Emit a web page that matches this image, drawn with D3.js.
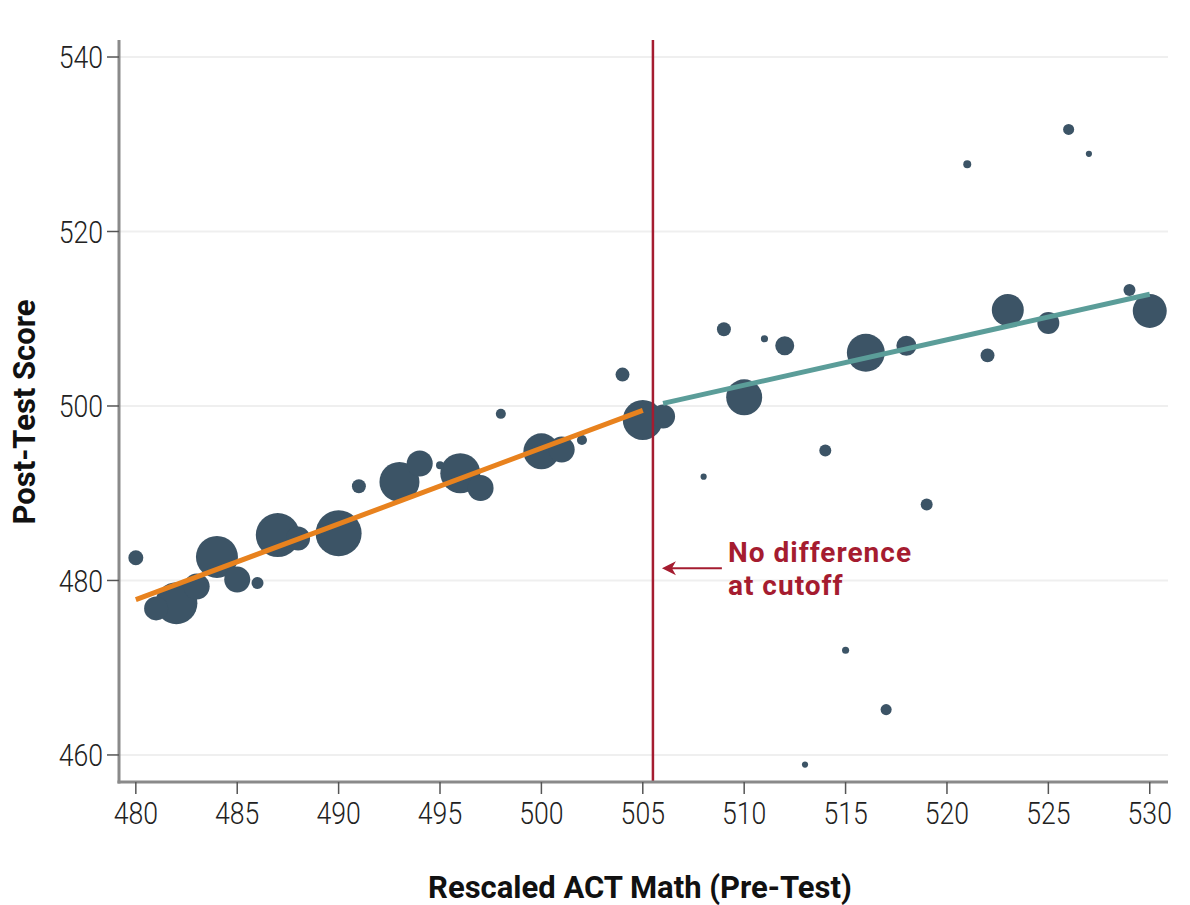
<!DOCTYPE html>
<html lang="en">
<head>
<meta charset="UTF-8">
<title>Regression discontinuity</title>
<script src="https://d3js.org/d3.v7.min.js"></script>
<style>
    body { margin: 0; background: #fff; }
    svg { display: block; }
    .tick-label { font-family: 'Roboto', sans-serif; font-weight: 300; font-size: 31px; fill: #222; }
    .axis-title { font-family: 'Roboto', sans-serif; font-weight: 700; font-size: 31px; fill: #111; }
    .note { font-family: 'Roboto', sans-serif; font-weight: 700; font-size: 28px; letter-spacing: 1px; fill: #a51c30; }
</style>
</head>
<body>
<svg id="chart" width="1190" height="905"></svg>
<script>
// binned pre-test score, mean post-test score, students in bin
const actScores = [480, 481, 482, 483, 484, 485, 486, 487, 488, 490, 491, 493, 494, 495, 496, 497, 498,
    500, 501, 502, 504, 505, 506, 508, 509, 510, 511, 512, 513, 514, 515, 516, 517, 518, 519,
    521, 522, 523, 525, 526, 527, 529, 530];
const postScores = [482.6, 476.8, 477.4, 479.3, 482.7, 480.1, 479.7, 485.2, 484.8, 485.4, 490.8, 491.3, 493.4, 493.2, 492.3, 490.6, 499.1,
    494.8, 495.0, 496.1, 503.6, 498.4, 498.8, 491.9, 508.8, 501.0, 507.7, 506.9, 458.9, 494.9, 472.0, 506.1, 465.2, 506.9, 488.7,
    527.7, 505.8, 511.0, 509.5, 531.7, 528.9, 513.3, 510.9];
const binCounts = [53, 136, 417, 160, 417, 160, 34, 457, 136, 500, 46, 378, 160, 15, 378, 160, 24,
    306, 160, 24, 46, 378, 136, 9, 46, 306, 12, 85, 9, 34, 12, 341, 29, 95, 34,
    15, 46, 242, 114, 29, 9, 34, 273];

const cutoff = 505.5;
const leftFitX = [480, 505];
const leftFitY = [477.8, 499.5];
const rightFitX = [506, 530];
const rightFitY = [500.3, 512.8];

const xTicks = [480, 485, 490, 495, 500, 505, 510, 515, 520, 525, 530];
const yTicks = [460, 480, 500, 520, 540];

const svg = d3.select("#chart");

const x = d3.scaleLinear().domain([479.17, 530.9]).range([119, 1168]);
const y = d3.scaleLinear().domain([456.9, 541.95]).range([782, 40]);
const r = d3.scaleSqrt().domain([0, 500]).range([0, 23]);

// gridlines
svg.append("g").selectAll("line")
    .data(yTicks)
    .join("line")
    .attr("x1", x.range()[0]).attr("x2", x.range()[1])
    .attr("y1", d => y(d)).attr("y2", d => y(d))
    .attr("stroke", "#efefef").attr("stroke-width", 2);

// bubbles
const pts = actScores.map((a, i) => ({ a, p: postScores[i], n: binCounts[i] }));
svg.append("g").selectAll("circle")
    .data(pts.slice().sort((u, v) => v.n - u.n))
    .join("circle")
    .attr("cx", d => x(d.a))
    .attr("cy", d => y(d.p))
    .attr("r", d => r(d.n))
    .attr("fill", "#3c5466");

// fitted lines
const fit = d3.line().x(d => x(d[0])).y(d => y(d[1]));
svg.append("path")
    .attr("d", fit(leftFitX.map((v, i) => [v, leftFitY[i]])))
    .attr("stroke", "#e8821e").attr("stroke-width", 5).attr("fill", "none");
svg.append("path")
    .attr("d", fit(rightFitX.map((v, i) => [v, rightFitY[i]])))
    .attr("stroke", "#5b9d99").attr("stroke-width", 5).attr("fill", "none");

// cutoff line
svg.append("line")
    .attr("x1", x(cutoff)).attr("x2", x(cutoff))
    .attr("y1", y.range()[1]).attr("y2", y.range()[0])
    .attr("stroke", "#a51c30").attr("stroke-width", 2.5);

// axes
const axisColor = "#8a8a8a";
svg.append("line")
    .attr("x1", x.range()[0]).attr("x2", x.range()[0])
    .attr("y1", y.range()[1]).attr("y2", y.range()[0] + 1.5)
    .attr("stroke", axisColor).attr("stroke-width", 3);
svg.append("line")
    .attr("x1", x.range()[0] - 1.5).attr("x2", x.range()[1])
    .attr("y1", y.range()[0]).attr("y2", y.range()[0])
    .attr("stroke", axisColor).attr("stroke-width", 3);

// labels are squeezed a little to mimic the condensed face of the original
const yAxis = svg.append("g");
yAxis.selectAll("line")
    .data(yTicks).join("line")
    .attr("x1", 107).attr("x2", 119)
    .attr("y1", d => y(d)).attr("y2", d => y(d))
    .attr("stroke", "#555").attr("stroke-width", 1.5);
yAxis.selectAll("text")
    .data(yTicks).join("text")
    .attr("class", "tick-label")
    .attr("transform", d => `translate(103,${y(d)}) scale(0.86,1)`)
    .attr("dy", "0.36em")
    .attr("text-anchor", "end")
    .text(d => d);

const xAxis = svg.append("g");
xAxis.selectAll("line")
    .data(xTicks).join("line")
    .attr("x1", d => x(d)).attr("x2", d => x(d))
    .attr("y1", 782).attr("y2", 794)
    .attr("stroke", "#555").attr("stroke-width", 1.5);
xAxis.selectAll("text")
    .data(xTicks).join("text")
    .attr("class", "tick-label")
    .attr("transform", d => `translate(${x(d)},824) scale(0.86,1)`)
    .attr("text-anchor", "middle")
    .text(d => d);

// axis titles
svg.append("text")
    .attr("class", "axis-title")
    .attr("x", 640).attr("y", 898)
    .attr("text-anchor", "middle")
    .text("Rescaled ACT Math (Pre-Test)");
svg.append("text")
    .attr("class", "axis-title")
    .attr("transform", "translate(35,412) rotate(-90)")
    .attr("text-anchor", "middle")
    .text("Post-Test Score");

// annotation
const noteX = 509.2, noteY = 482.1, arrowY = 481.4;
const note = svg.append("text").attr("class", "note")
    .attr("x", x(noteX)).attr("y", y(noteY));
note.append("tspan").text("No difference");
note.append("tspan").attr("x", x(noteX)).attr("dy", 33).text("at cutoff");

const ax0 = x(508.9), ax1 = x(cutoff) + 9, ay = y(arrowY);
svg.append("line")
    .attr("x1", ax0).attr("x2", ax1 + 4)
    .attr("y1", ay).attr("y2", ay)
    .attr("stroke", "#a51c30").attr("stroke-width", 2);
svg.append("path")
    .attr("d", `M${ax1},${ay} L${ax1 + 14},${ay - 7} L${ax1 + 10},${ay} L${ax1 + 14},${ay + 7} Z`)
    .attr("fill", "#a51c30");
</script>
</body>
</html>
